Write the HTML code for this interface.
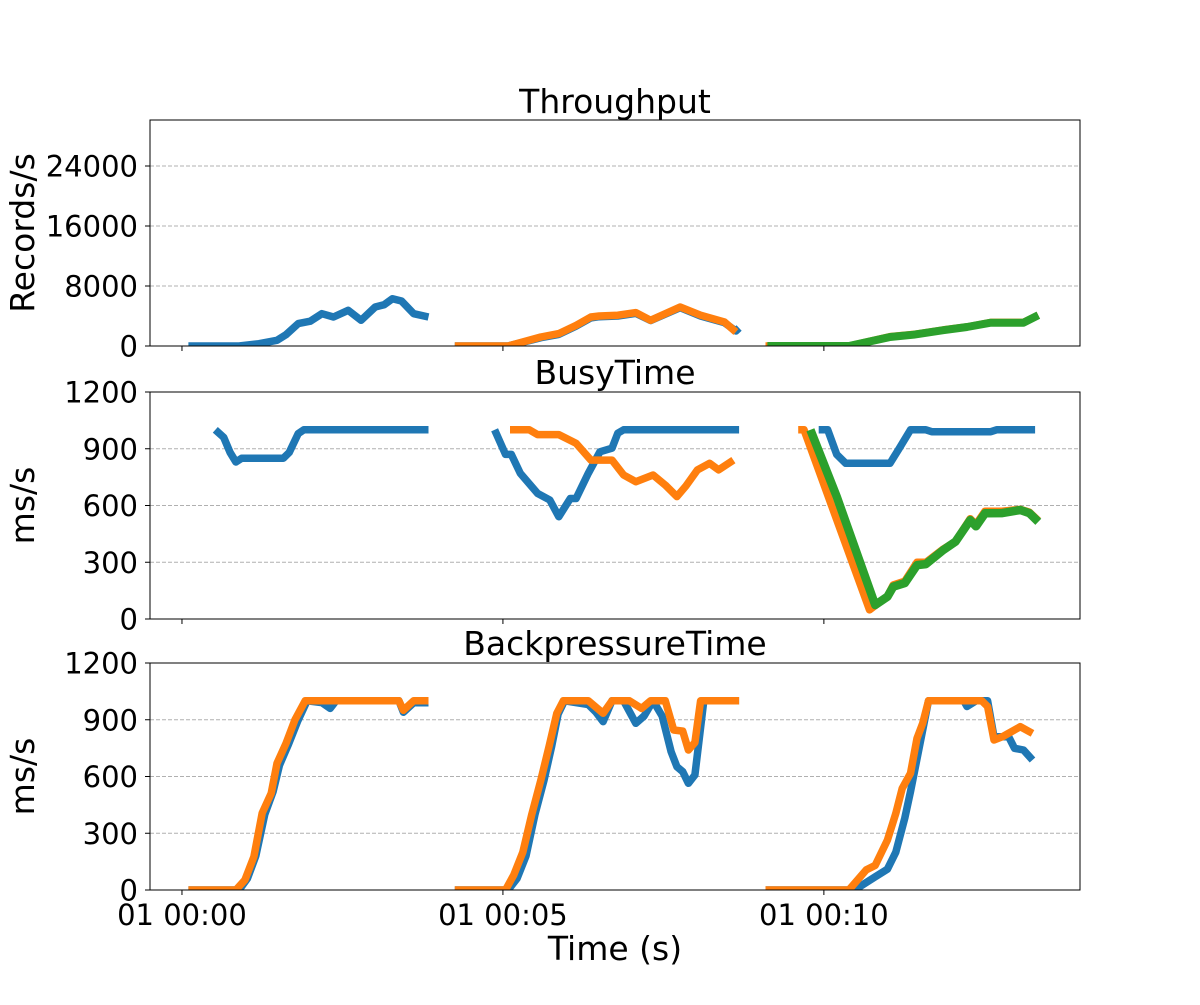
<!DOCTYPE html>
<html><head><meta charset="utf-8"><style>
body{margin:0;background:#fff}
svg text{font-family:"DejaVu Sans","Liberation Sans",sans-serif;fill:#000}
</style></head><body>
<svg id="chart" width="1200" height="1000" viewBox="0 0 1200 1000" xmlns="http://www.w3.org/2000/svg"></svg>
<script>
// ---- data (t in minutes since 01 00:00) ----
const xTickValues=[0,5,10];
const xTickLabels=["01 00:00","01 00:05","01 00:10"];
const panelTitles=["Throughput","BusyTime","BackpressureTime"];
const yLabels=["Records/s","ms/s","ms/s"];
const yTicks1=[0,8000,16000,24000];
const yTicks2=[0,300,600,900,1200];
const yTicks3=[0,300,600,900,1200];

// Throughput
const tpBlue1=[[0.10,0],[0.89,0],[1.20,300],[1.48,760],[1.62,1500],[1.81,2980],[2.0,3300],[2.18,4300],[2.36,3870],[2.59,4760],[2.79,3420],[3.01,5200],[3.15,5500],[3.28,6300],[3.42,6000],[3.61,4300],[3.84,3870]];
const tpBlue2=[[4.25,0],[5.08,0],[5.59,1100],[5.87,1550],[6.14,2650],[6.37,3750],[6.5,3900],[6.79,4000],[7.07,4350],[7.30,3400],[7.76,5100],[8.08,4000],[8.45,3100],[8.63,2000],[8.68,2400]];
const tpOrange2=[[4.25,0],[5.08,0],[5.59,1200],[5.87,1650],[6.14,2750],[6.37,3870],[6.5,4000],[6.79,4100],[7.07,4450],[7.30,3420],[7.76,5200],[8.08,4100],[8.45,3200],[8.63,1870]];
const tpOrange3=[[9.09,0],[10.39,0],[11.03,1250],[11.40,1550],[11.86,2150],[12.23,2550],[12.60,3150],[13.11,3150],[13.34,4100]];
const tpGreen3=[[9.12,0],[10.39,0],[11.03,1200],[11.40,1500],[11.86,2100],[12.23,2530],[12.60,3100],[13.11,3100],[13.34,4100]];

// BusyTime
const btBlue1=[[0.52,1000],[0.65,960],[0.75,880],[0.84,830],[0.93,850],[1.58,850],[1.67,880],[1.81,980],[1.90,1000],[3.84,1000]];
const btBlue2=[[4.87,1000],[5.04,870],[5.13,870],[5.27,770],[5.54,664],[5.73,629],[5.87,541],[6.05,637],[6.14,637],[6.33,770],[6.51,884],[6.70,903],[6.79,982],[6.88,1000],[8.68,1000]];
const btOrange2=[[5.11,1000],[5.41,1000],[5.54,975],[5.87,975],[6.14,929],[6.37,840],[6.51,840],[6.70,840],[6.88,761],[7.07,726],[7.34,761],[7.53,708],[7.71,647],[7.85,703],[8.03,788],[8.22,823],[8.36,788],[8.59,840]];
const btBlue3=[[9.92,1000],[10.06,1000],[10.20,870],[10.34,823],[11.03,823],[11.17,900],[11.35,1000],[11.59,1000],[11.68,990],[12.60,990],[12.69,1000],[13.29,1000]];
const btOrange3=[[9.60,1000],[9.69,1000],[10.71,48],[10.99,120],[11.08,180],[11.26,200],[11.45,300],[11.59,300],[11.86,370],[12.05,410],[12.28,530],[12.37,500],[12.51,570],[12.78,570],[13.06,580],[13.20,565],[13.34,520]];
const btGreen3=[[9.79,1000],[10.20,647],[10.80,74],[10.99,118],[11.08,171],[11.26,190],[11.45,285],[11.59,290],[11.86,365],[12.05,409],[12.28,523],[12.37,490],[12.51,559],[12.78,560],[13.06,576],[13.20,560],[13.34,514]];

// BackpressureTime
const bpBlue1=[[0.10,0],[0.89,0],[1.02,60],[1.15,180],[1.29,400],[1.42,520],[1.52,660],[1.66,770],[1.80,890],[1.95,1000],[2.18,990],[2.31,960],[2.40,1000],[3.38,1000],[3.45,940],[3.61,990],[3.84,990]];
const bpOrange1=[[0.10,0],[0.84,0],[0.98,53],[1.12,176],[1.25,407],[1.39,511],[1.48,670],[1.62,775],[1.76,899],[1.92,1000],[2.27,1000],[3.38,1000],[3.45,950],[3.61,1000],[3.84,1000]];
const bpBlue2=[[4.25,0],[5.08,0],[5.22,60],[5.36,180],[5.50,400],[5.64,580],[5.76,760],[5.86,930],[5.96,1000],[6.33,980],[6.45,940],[6.56,890],[6.70,1000],[6.88,1000],[7.07,881],[7.20,920],[7.34,1000],[7.48,920],[7.62,731],[7.71,652],[7.80,626],[7.89,564],[7.99,608],[8.13,1000],[8.68,1000]];
const bpOrange2=[[4.25,0],[5.04,0],[5.17,80],[5.31,200],[5.45,400],[5.59,580],[5.72,760],[5.84,934],[5.94,1000],[6.33,1000],[6.56,934],[6.70,1000],[6.97,1000],[7.16,960],[7.30,1000],[7.53,1000],[7.66,846],[7.80,840],[7.89,740],[7.99,780],[8.08,1000],[8.68,1000]];
const bpBlue3=[[9.09,0],[10.39,0],[10.57,20],[10.80,70],[10.99,110],[11.12,200],[11.26,380],[11.35,520],[11.49,760],[11.63,1000],[12.18,1000],[12.23,970],[12.37,1000],[12.55,1000],[12.65,810],[12.88,810],[12.97,749],[13.11,740],[13.25,687]];
const bpOrange3=[[9.09,0],[10.39,0],[10.66,106],[10.80,130],[10.99,264],[11.12,405],[11.22,537],[11.35,617],[11.45,802],[11.54,881],[11.63,1000],[12.46,1000],[12.55,970],[12.65,793],[12.78,810],[13.06,863],[13.25,828]];

const BLUE="#1f77b4",ORANGE="#ff7f0e",GREEN="#2ca02c";
const svg=document.getElementById('chart');
const NS="http://www.w3.org/2000/svg";
const L=150,R=1080,T0=-0.498,T1=13.99;
function sx(t){return L+(t-T0)/(T1-T0)*(R-L);}
function mk(tag,attrs,parent){const e=document.createElementNS(NS,tag);for(const k in attrs)e.setAttribute(k,attrs[k]);(parent||svg).appendChild(e);return e;}

const panels=[
 {top:120,bot:346,ymax:30133,ticks:yTicks1,series:[[tpBlue1,BLUE,7.5],[tpBlue2,BLUE,7.5],[tpOrange2,ORANGE,7.5],[tpOrange3,ORANGE,7.5],[tpGreen3,GREEN,8]],titleY:113},
 {top:392,bot:619,ymax:1200,ticks:yTicks2,series:[[btBlue1,BLUE,7.5],[btBlue2,BLUE,7.5],[btOrange2,ORANGE,7.5],[btBlue3,BLUE,7.5],[btOrange3,ORANGE,7.5],[btGreen3,GREEN,8.5]],titleY:384},
 {top:663,bot:890,ymax:1200,ticks:yTicks3,series:[[bpBlue1,BLUE,7.5],[bpOrange1,ORANGE,7.5],[bpBlue2,BLUE,7.5],[bpOrange2,ORANGE,7.5],[bpBlue3,BLUE,7.5],[bpOrange3,ORANGE,7.5]],titleY:655}
];
panels.forEach((p,i)=>{
 const g=mk('g',{});
 
 
 const sy=v=>p.bot-v/p.ymax*(p.bot-p.top);
 p.ticks.forEach(v=>{
  const y=sy(v);
  if(v>0){const gl=mk('line',{x1:L,x2:R,y1:y,y2:y,stroke:'#b0b0b0','stroke-width':1,'stroke-dasharray':'4,2'},g);
   
   }
  mk('line',{x1:L-5,x2:L,y1:y,y2:y,stroke:'#000','stroke-width':1},g);
  const tx=mk('text',{x:L-12,y:y+10.5,'text-anchor':'end','font-size':29},g);
  tx.textContent=v;
  
  
 });
 xTickValues.forEach((v,j)=>{
  const x=sx(v);
  mk('line',{x1:x,x2:x,y1:p.bot,y2:p.bot+5,stroke:'#000','stroke-width':1},g);
  if(i===2){const tx=mk('text',{x:x,y:p.bot+35,'text-anchor':'middle','font-size':29},g);
   tx.textContent=xTickLabels[j];
   
   }
 });
 const cp='clip'+i;
 const cl=mk('clipPath',{id:cp},g);mk('rect',{x:L,y:p.top,width:R-L,height:p.bot-p.top},cl);
 p.series.forEach(([d,c,w])=>{
  const pl=mk('polyline',{points:d.map(q=>sx(q[0]).toFixed(1)+','+sy(q[1]).toFixed(1)).join(' '),fill:'none',stroke:c,'stroke-width':w,'stroke-linejoin':'round','clip-path':'url(#'+cp+')'},g);
  
  
 });
 const fr=mk('rect',{x:L,y:p.top,width:R-L,height:p.bot-p.top,fill:'none',stroke:'#000','stroke-width':1},g);
 
 
 const tt=mk('text',{x:(L+R)/2,y:p.titleY,'text-anchor':'middle','font-size':33},g);
 tt.textContent=panelTitles[i];
 
 
 const cy=(p.top+p.bot)/2;
 const yl=mk('text',{x:0,y:0,'text-anchor':'middle','font-size':33,transform:'translate(34,'+cy+') rotate(-90)'},g);
 yl.textContent=yLabels[i];
 
 
});
const xt=mk('text',{x:(L+R)/2,y:960,'text-anchor':'middle','font-size':33});
xt.textContent='Time (s)';


</script>
</body></html>
